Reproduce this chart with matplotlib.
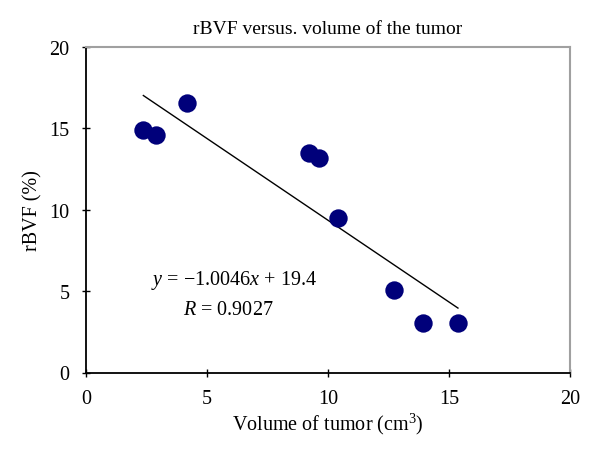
import matplotlib
matplotlib.use("Agg")
import matplotlib.pyplot as plt
import numpy as np

volume = [2.37, 2.89, 4.16, 9.23, 9.64, 10.40, 12.74, 13.91, 15.37]
rbvf = [14.9, 14.57, 16.56, 13.5, 13.21, 9.47, 5.07, 3.06, 3.06]
slope = -1.0046
intercept = 19.4
xticks = [0, 5, 10, 15, 20]
yticks = [0, 5, 10, 15, 20]

plt.rcParams['font.family'] = ['Liberation Serif', 'DejaVu Serif']
plt.rcParams['mathtext.fontset'] = 'custom'
plt.rcParams['mathtext.it'] = 'Liberation Serif:italic'
plt.rcParams['mathtext.rm'] = 'Liberation Serif'

fig = plt.figure(figsize=(6, 4.56), dpi=100)
ax = fig.add_axes([86/600, 1-373.5/456, (570-86)/600, (373.5-48)/456])

ax.scatter(volume, rbvf, s=175, color='#00007a', zorder=3, linewidths=0)
xl = np.array([min(volume), max(volume)])
ax.plot(xl, slope*xl + intercept, color='black', lw=1.0, zorder=2)

ax.set_xlim(0, 20)
ax.set_ylim(0, 20)
ax.set_xticks(xticks)
ax.set_yticks(yticks)
ax.tick_params(direction='inout', length=6, width=1, labelsize=14.5)
ax.tick_params(axis='x', pad=9)
ax.tick_params(axis='y', pad=9)
for s in ['top', 'right']:
    ax.spines[s].set_color('#a0a0a0')
    ax.spines[s].set_linewidth(1.5)
for s in ['left', 'bottom']:
    ax.spines[s].set_linewidth(1.3)

ax.set_title('rBVF versus. volume of the tumor', fontsize=14, pad=10)
ax.set_xlabel('Volume of tumor (cm$^3$)', fontsize=14.5, labelpad=2)
ax.set_ylabel('rBVF (%)', fontsize=14.5, labelpad=5)

ax.text(6.12, 5.7, r'$y$ = $-$1.0046$x$ + 19.4', fontsize=14.5, ha='center', va='center')
ax.text(5.88, 3.9, r'$R$ = 0.9027', fontsize=14.5, ha='center', va='center')

fig.savefig('out.png', dpi=100)
